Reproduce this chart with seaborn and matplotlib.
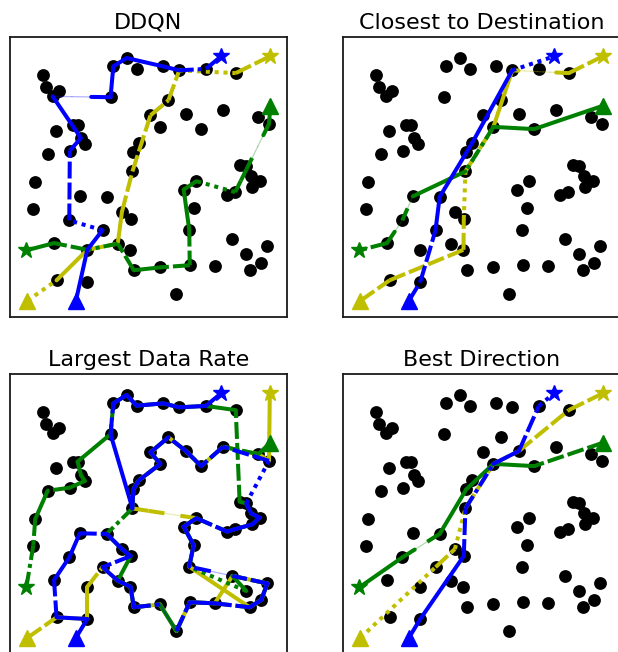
import matplotlib
matplotlib.use("Agg")
import matplotlib.pyplot as plt
import pandas as pd
import seaborn as sns

# ---- network nodes (ids 1..65, coordinates in % of the service area) ----
node_x = [12.0, 13.0, 17.8, 15.4, 37.3, 42.1, 45.7, 55.3, 61.1, 70.7,
          81.5, 36.3, 57.2, 50.7, 63.5, 76.9, 89.7, 93.5, 54.3, 69.0,
          22.8, 24.4, 16.6, 25.6, 27.0, 21.6, 13.6, 46.6, 44.5, 44.2,
          82.9, 85.3, 87.1, 90.1, 87.5, 9.1, 67.3, 62.7, 78.4, 81.3,
          25.2, 34.9, 8.4, 66.3, 40.4, 43.6, 21.4, 33.4, 64.7, 80.3,
          92.9, 15.9, 38.9, 27.9, 43.5, 85.3, 90.7, 86.5, 44.7, 54.1,
          64.9, 73.9, 16.8, 27.9, 60.1]
node_y = [86.5, 82.0, 80.6, 78.8, 89.5, 92.5, 88.7, 89.5, 88.1, 88.6,
          87.1, 78.5, 77.4, 72.0, 72.5, 74.0, 71.4, 69.0, 67.9, 67.1,
          68.5, 68.7, 66.3, 63.9, 61.8, 59.4, 58.3, 62.1, 58.8, 52.0,
          54.4, 53.8, 50.2, 48.7, 46.3, 48.2, 48.5, 45.5, 43.7, 44.6,
          43.1, 42.9, 38.7, 38.9, 37.5, 35.0, 34.5, 31.0, 31.2, 27.9,
          25.2, 26.4, 26.2, 24.0, 24.0, 22.5, 19.3, 16.7, 16.7, 17.7,
          18.5, 18.1, 13.1, 12.5, 8.2]

# ---- source (triangle) and destination (star) of each flow ----
flow_colors = ["y", "g", "b"]
source_x = {"b": 23.8, "y": 6.3, "g": 94.0}
source_y = {"b": 5.8, "y": 5.8, "g": 75.5}
dest_x = {"b": 76.2, "y": 93.8, "g": 5.9}
dest_y = {"b": 93.1, "y": 93.1, "g": 23.8}

# ---- routes: relay node ids, and one link style per hop ----
# styles: '-' solid, '--' dashed, ':' dotted, '-.' dash-dot, 'thin' weak link,
# 'a|b' splits a hop into equal parts drawn with different styles
ddqn_b = [54, 48, 47, 26, 24, 4, 12, 5, 6, 8, 9, 10]
ddqn_b_style = ["-", "-", ":", "--", "--", "-", "thin|thin|-", "-", "-", "-", "-", "-.", "--"]
ddqn_y = [63, 54, 53, 45, 30, 14, 13, 9, 11]
ddqn_y_style = [":", "-", "--", "-", "--", "--", "--", "--", ":", "--"]
ddqn_g = [18, 40, 37, 38, 49, 61, 60, 59, 53, 54, 52]
ddqn_g_style = ["-", "-|thin|thin|--|--|--", ":", "-", "-", "--", "--", "-", "--", "-.", "--", "-"]

close_b = [64, 48, 42, 28, 9]
close_b_style = ["--", "--", "-", "-", "-", ":"]
close_y = [63, 55, 46, 30, 19, 9, 11]
close_y_style = ["--", "--", "--", ":", "-.", "-", "-|thin|thin|thin|thin|thin|thin|-|-", "--"]
close_g = [20, 19, 30, 41, 47, 52]
close_g_style = ["-", "-", "-.", "-", "thin|--", "thin|-", "--"]

rate_b = [64, 63, 52, 47, 41, 42, 45, 46, 48, 53, 55, 59, 60, 65, 61, 62, 58, 57, 51,
          50, 49, 44, 38, 37, 39, 40, 35, 34, 33, 32, 18, 16, 20, 15, 13, 14, 19, 28,
          29, 30, 12, 5, 6, 7, 8, 9, 10]
rate_b_style = ["-", "-", "--", "-", "-", "--", "-", "-", "--", "-", "-", "-", "--",
                "thin", "--", "-", "--", "-", "-", "--", "thin|--", "-", "-", "-", "--",
                "-", "-", "-", "-", "-", ":", "--", "--", "-", "--", "-", "-", "-", "-",
                "-", "-", "--", "-", "-", "-", "-", "-", "-"]
rate_y = [63, 64, 54, 48, 53, 55, 59, 60, 65, 61, 62, 50, 51, 57, 58, 49, 44, 38, 37,
          30, 29, 28, 19, 14, 13, 15, 20, 16, 17, 18]
rate_y_style = ["--", "-", "-", "--", "-", "-", "-", "-", "-", "-", "-", "-", "-", "-",
                "-", "-", "-", "-", "-", "--|thin|--|--", "--", "--", "--", "--", "--",
                "--", "--", "--", "--", "-", "-"]
rate_g = [17, 16, 20, 15, 13, 14, 19, 28, 29, 30, 42, 45, 46, 53, 55, 59, 60, 65, 61,
          62, 58, 57, 51, 50, 56, 49, 44, 38, 37, 39, 40, 35, 34, 33, 32, 31, 11, 10,
          9, 8, 7, 6, 5, 12, 22, 24, 25, 26, 27, 36, 43]
rate_g_style = ["-", "--", "--", "--", "--", "--", "--", "--", "--", "--", "-.", "-",
                "-", "-", "-", "--", "--", "-", "--", "--", "--", "-", "-", "--", "-",
                ":", "--", "--", "-", "--", "-", "-", "-", "-", "-", "-", "--", "-", "-",
                "-", "-", "-", "-", "--", "-", "-", "-", "-", "--", "-", "--", "-."]

best_b = [64, 46, 30, 19, 15, 10]
best_b_style = ["-", "-", "--", "-.", "-", "--", ":"]
best_y = [48, 45, 30, 19, 15, 11]
best_y_style = [":", "--", ":", "--", "--", "--", "--"]
best_g = [20, 19, 29, 42, 47]
best_g_style = ["--", "-", "-", "-", "--|thin|-", "-"]

panels = [
    ("DDQN", {"b": (ddqn_b, ddqn_b_style), "y": (ddqn_y, ddqn_y_style), "g": (ddqn_g, ddqn_g_style)}),
    ("Closest to Destination", {"b": (close_b, close_b_style), "y": (close_y, close_y_style), "g": (close_g, close_g_style)}),
    ("Largest Data Rate", {"b": (rate_b, rate_b_style), "y": (rate_y, rate_y_style), "g": (rate_g, rate_g_style)}),
    ("Best Direction", {"b": (best_b, best_b_style), "y": (best_y, best_y_style), "g": (best_g, best_g_style)}),
]

LW = 2.9
DASHES = {"-": "-", "--": (0, (4.2, 1.0)), ":": (0, (1.0, 1.2)), "-.": (0, (3.6, 1.0, 1.0, 1.0))}
ZORDER = {"y": 3, "g": 4, "b": 5}

nodes = pd.DataFrame({"x": node_x, "y": node_y})


def draw_route(ax, ids, styles, c):
    xs = [source_x[c]] + [node_x[i - 1] for i in ids] + [dest_x[c]]
    ys = [source_y[c]] + [node_y[i - 1] for i in ids] + [dest_y[c]]
    for k, st in enumerate(styles):
        x0, y0, x1, y1 = xs[k], ys[k], xs[k + 1], ys[k + 1]
        parts = st.split("|")
        n = len(parts)
        for j, p in enumerate(parts):
            xa, xb = x0 + (x1 - x0) * j / n, x0 + (x1 - x0) * (j + 1) / n
            ya, yb = y0 + (y1 - y0) * j / n, y0 + (y1 - y0) * (j + 1) / n
            if p == "thin":
                ax.plot([xa, xb], [ya, yb], color=c, lw=0.9, alpha=0.3, zorder=ZORDER[c])
            else:
                ax.plot([xa, xb], [ya, yb], color=c, lw=LW, linestyle=DASHES[p],
                        solid_capstyle="round", dash_capstyle="butt", zorder=ZORDER[c])


sns.set_style("white")
fig = plt.figure(figsize=(6.18, 6.52), dpi=100)

W, H = 277 / 618, 280 / 652
positions = [(10 / 618, 335 / 652), (343 / 618, 335 / 652),
             (10 / 618, -2 / 652), (343 / 618, -2 / 652)]

for (title, routes), (l, b) in zip(panels, positions):
    ax = fig.add_axes([l, b, W, H])
    sns.scatterplot(data=nodes, x="x", y="y", color="black", s=85, linewidth=0,
                    ax=ax, zorder=2, legend=False)
    for c in flow_colors:
        ids, styles = routes[c]
        draw_route(ax, ids, styles, c)
        ax.plot(source_x[c], source_y[c], marker="^", color=c, ms=11, zorder=7, linestyle="none")
        ax.plot(dest_x[c], dest_y[c], marker="*", color=c, ms=12, zorder=7, linestyle="none")
    ax.set_xlim(0, 100)
    ax.set_ylim(0, 100)
    ax.set_xticks([])
    ax.set_yticks([])
    ax.set_xlabel("")
    ax.set_ylabel("")
    for sp in ax.spines.values():
        sp.set_color("#1a1a1a")
        sp.set_linewidth(1.3)
        sp.set_visible(True)
    ax.set_title(title, fontsize=16, pad=6, color="black")

fig.savefig("out.png", dpi=100)
